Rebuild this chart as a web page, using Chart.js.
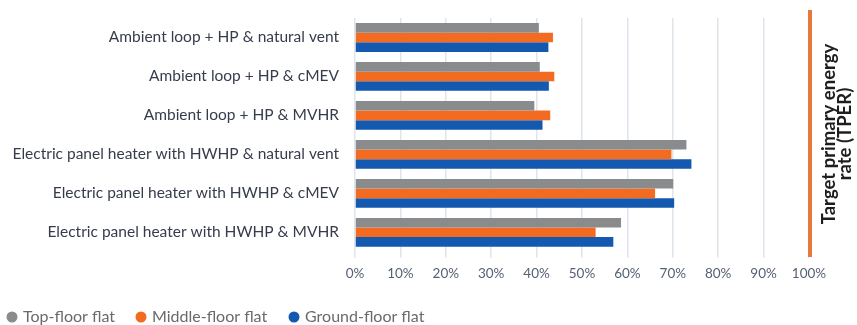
<!DOCTYPE html>
<html>
<head>
<meta charset="utf-8">
<script src="https://cdn.jsdelivr.net/npm/chart.js@4"></script>
<style>
html,body{margin:0;padding:0;background:#fff;}
canvas{display:block;}
</style>
</head>
<body>
<canvas id="c" width="857" height="325"></canvas>
<script>
const categories = [
  "Ambient loop + HP & natural vent",
  "Ambient loop + HP & cMEV",
  "Ambient loop + HP & MVHR",
  "Electric panel heater with HWHP & natural vent",
  "Electric panel heater with HWHP & cMEV",
  "Electric panel heater with HWHP & MVHR"
];
const topFloor    = [40.5, 40.7, 39.5, 73.0, 70.1, 58.6];
const middleFloor = [43.6, 43.9, 43.0, 69.7, 66.1, 53.0];
const groundFloor = [42.6, 42.7, 41.3, 74.1, 70.3, 56.9];
const seriesNames = ["Top-floor flat", "Middle-floor flat", "Ground-floor flat"];
const seriesColors = ["#8a8b8c", "#f26b21", "#1459b0"];
const tickValues = [0,10,20,30,40,50,60,70,80,90,100];
const targetValue = 100;
const targetLabel = ["Target primary energy", "rate (TPER)"];

const targetPlugin = {
  id: 'target',
  afterDatasetsDraw(chart) {
    const ctx = chart.ctx;
    const x = chart.scales.x.getPixelForValue(targetValue);
    ctx.save();
    ctx.fillStyle = '#e9783c';
    ctx.fillRect(x - 1, 10, 4, 247);
    ctx.translate(x + 20, 134);
    ctx.rotate(-Math.PI / 2);
    ctx.fillStyle = '#1e1e1e';
    ctx.font = 'bold 18.5px Lato';
    ctx.textAlign = 'center';
    ctx.textBaseline = 'middle';
    ctx.fillText(targetLabel[0], 0, 0);
    ctx.fillText(targetLabel[1], 0, 16);
    ctx.restore();
  }
};

const legendPlugin = {
  id: 'customLegend',
  afterDraw(chart) {
    const ctx = chart.ctx;
    const y = 317;
    const starts = [12, 141, 294];
    ctx.save();
    ctx.font = '16px Lato';
    ctx.textBaseline = 'middle';
    ctx.textAlign = 'left';
    chart.data.datasets.forEach((ds, i) => {
      const cx = starts[i];
      ctx.beginPath();
      ctx.arc(cx, y, 5.5, 0, Math.PI * 2);
      ctx.fillStyle = ds.backgroundColor;
      ctx.fill();
      ctx.fillStyle = '#6a6a6a';
      ctx.fillText(ds.label, cx + 11, y);
    });
    ctx.restore();
  }
};

new Chart(document.getElementById('c'), {
  type: 'bar',
  data: {
    labels: categories,
    datasets: [
      { label: seriesNames[0], data: topFloor,    backgroundColor: seriesColors[0] },
      { label: seriesNames[1], data: middleFloor, backgroundColor: seriesColors[1] },
      { label: seriesNames[2], data: groundFloor, backgroundColor: seriesColors[2] }
    ]
  },
  options: {
    indexAxis: 'y',
    responsive: false,
    animation: false,
    layout: { padding: { top: 18, right: 48, left: 0, bottom: 35 } },
    datasets: { bar: { barPercentage: 1, categoryPercentage: 0.74 } },
    scales: {
      x: {
        min: 0, max: 100,
        afterBuildTicks(scale) { scale.ticks = tickValues.map(v => ({ value: v })); },
        grid: { color: '#dfe5ec', lineWidth: 1.5, drawTicks: true, tickLength: 6 },
        border: { display: false },
        ticks: {
          callback: v => v + '%',
          color: '#556075',
          font: { family: 'Lato', size: 13.5 },
          padding: 8
        }
      },
      y: {
        grid: { display: true, drawOnChartArea: false, drawTicks: true, tickLength: 16, color: 'rgba(0,0,0,0)' },
        border: { display: false },
        afterFit(scale) { scale.width = 355; },
        ticks: {
          color: '#363c4c',
          font: { family: 'Lato', size: 15.5 },
          padding: 0
        }
      }
    },
    plugins: {
      legend: { display: false },
      tooltip: { enabled: false }
    }
  },
  plugins: [targetPlugin, legendPlugin]
});
</script>
</body>
</html>
